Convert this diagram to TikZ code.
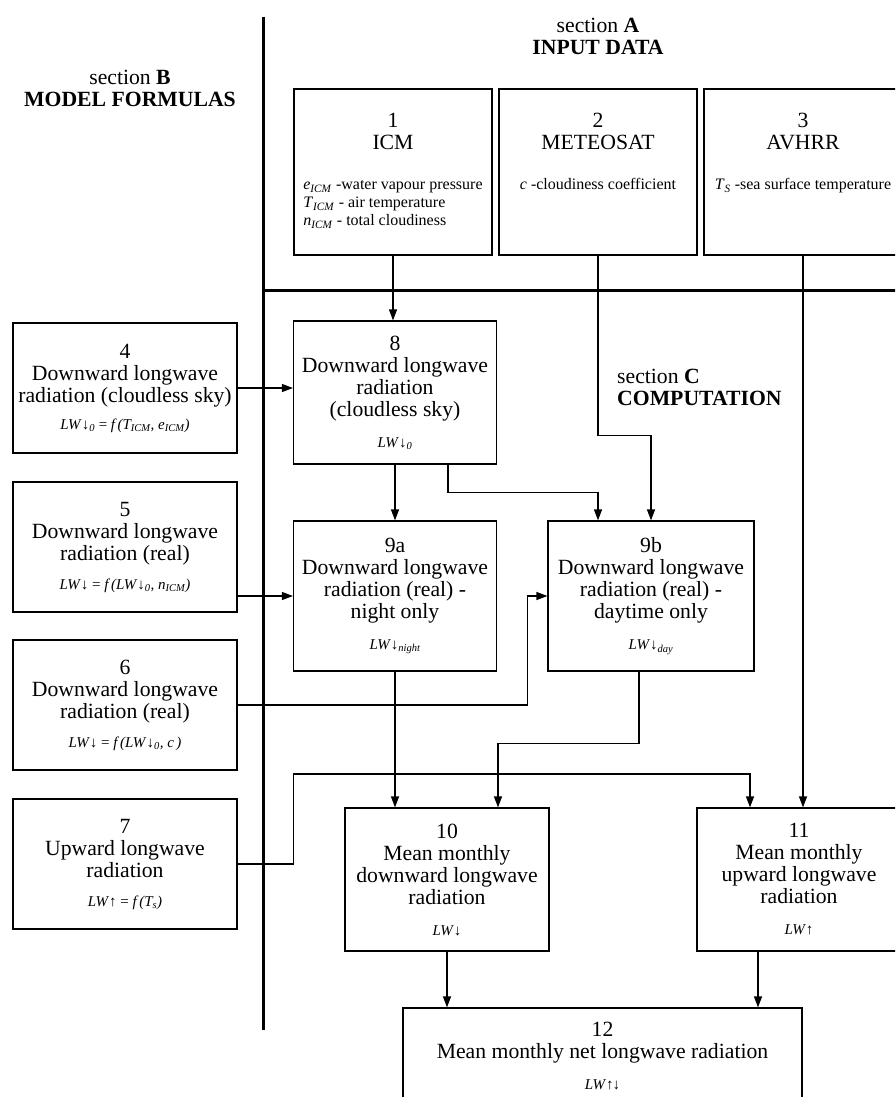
\documentclass[tikz,border=0pt]{standalone}
\usepackage{fontspec}
\setmainfont{Liberation Serif}
\usetikzlibrary{arrows.meta}
\newcommand{\mytitle}{\fontsize{21.7}{22}\selectfont}
\newcommand{\mysmall}{\fontsize{16}{18}\selectfont}
\newcommand{\myform}{\fontsize{15}{17}\selectfont\itshape}
\begin{document}
\begin{tikzpicture}[x=1pt,y=-1pt,
  box/.style={draw, line width=1.2pt, rectangle, inner sep=0pt, align=center, font=\mytitle},
  conn/.style={line width=1.2pt, -{Triangle[length=11pt,width=8pt]}},
  plain/.style={line width=1.2pt},
  sect/.style={line width=3pt},
  lab/.style={align=center, font=\mytitle, inner sep=0pt}]
\useasboundingbox (0,0) rectangle (895,1097);
\clip (0,0) rectangle (895,1097);
% section lines
\draw[sect] (263,17) -- (263,1030);
\draw[sect] (263,290) -- (900,290);
% section labels
\node[lab] (secA) at (598,36) {section \textbf{A}\\\textbf{INPUT DATA}};
\node[lab] (secB) at (130,88) {section \textbf{B}\\\textbf{MODEL FORMULAS}};
\node[lab, anchor=west, align=left] (secC) at (617,387) {section \textbf{C}\\\textbf{COMPUTATION}};
% input boxes
\node[box, minimum width=198pt, minimum height=166pt] (b1) at (393,172)
 {1\\ICM\\[18pt]{\mysmall\begin{tabular}[t]{@{}l@{}}\textit{e}\textsubscript{\textit{ICM}} -water vapour pressure\\ \textit{T}\textsubscript{\textit{ICM}} - air temperature\\ \textit{n}\textsubscript{\textit{ICM}} - total cloudiness\end{tabular}}};
\node[box, minimum width=198pt, minimum height=166pt] (b2) at (598,172)
 {2\\METEOSAT\\[18pt]{\mysmall\begin{tabular}[t]{@{}l@{}}\textit{c} -cloudiness coefficient\\ \mbox{}\\ \mbox{}\end{tabular}}};
\node[box, minimum width=198pt, minimum height=166pt] (b3) at (803,172)
 {3\\AVHRR\\[18pt]{\mysmall\begin{tabular}[t]{@{}l@{}}\textit{T}\textsubscript{\textit{S}} -sea surface temperature\\ \mbox{}\\ \mbox{}\end{tabular}}};
% model formula boxes
\node[box, minimum width=224pt, minimum height=130pt] (b4) at (125,388)
 {4\\Downward longwave\\radiation (cloudless sky)\\[5pt]{\myform LW\/↓\textsubscript{0} \upshape= \itshape f\,(T\textsubscript{ICM}, e\textsubscript{ICM})}};
\node[box, minimum width=224pt, minimum height=130pt] (b5) at (125,547)
 {5\\Downward longwave\\radiation (real)\\[7pt]{\myform LW\/↓ \upshape= \itshape f\,(LW\/↓\textsubscript{0}, n\textsubscript{ICM})}};
\node[box, minimum width=224pt, minimum height=130pt] (b6) at (125,705)
 {6\\Downward longwave\\radiation (real)\\[7pt]{\myform LW\/↓ \upshape= \itshape f\,(LW\/↓\textsubscript{0}, c\,)}};
\node[box, minimum width=224pt, minimum height=130pt] (b7) at (125,864)
 {7\\Upward longwave\\radiation\\[7pt]{\myform LW\/↑ \upshape= \itshape f\,(T\textsubscript{s})}};
% computation boxes
\node[box, minimum width=203pt, minimum height=143pt] (b8) at (395,392.5)
 {8\\Downward longwave\\radiation\\(cloudless sky)\\[9pt]{\myform LW\/↓\textsubscript{0}}};
\node[box, minimum width=203pt, minimum height=150pt] (b9a) at (395,596)
 {9a\\Downward longwave\\radiation (real) -\\night only\\[9pt]{\myform LW\/↓\textsubscript{night}}};
\node[box, minimum width=206pt, minimum height=150pt] (b9b) at (651,596)
 {9b\\Downward longwave\\radiation (real) -\\daytime only\\[9pt]{\myform LW\/↓\textsubscript{day}}};
\node[box, minimum width=204pt, minimum height=143pt] (b10) at (447,879.5)
 {10\\Mean monthly\\downward longwave\\radiation\\[9pt]{\myform LW\/↓}};
\node[box, minimum width=204pt, minimum height=143pt] (b11) at (799,879.5)
 {11\\Mean monthly\\upward longwave\\radiation\\[9pt]{\myform LW\/↑}};
\node[box, minimum width=399pt, minimum height=96pt] (b12) at (602.5,1056)
 {12\\Mean monthly net longwave radiation\\[9pt]{\myform LW\/↑\kern-1pt↓}};
% connectors
\draw[conn] (b1.south) -- (b1.south |- b8.north);
\draw[conn] (b2.south) -- ++(0,180) -| (b9b.north);
\draw[conn] (b3.south) -- (b3.south |- b11.north);
\draw[conn] (b4.east) -- (b4.east -| b8.west);
\draw[conn] (b5.east |- b9a.west) -- (b9a.west);
\draw[conn] (b6.east) -- ++(290,0) |- (b9b.west);
\draw[conn] (b7.east) -- ++(56,0) -- ++(0,-90) -| ([xshift=-49pt]b11.north);
\draw[conn] (b8.south) -- (b9a.north);
\draw[conn] ([xshift=53pt]b8.south) -- ++(0,28) -| ([xshift=-53pt]b9b.north);
\draw[conn] (b9a.south) -- (b9a.south |- b10.north);
\draw[conn] ([xshift=-12pt]b9b.south) -- ++(0,72) -| ([xshift=51pt]b10.north);
\draw[conn] (b10.south) -- (b10.south |- b12.north);
\draw[conn] ([xshift=-41pt]b11.south) -- ([xshift=-41pt]b11.south |- b12.north);
\end{tikzpicture}
\end{document}
